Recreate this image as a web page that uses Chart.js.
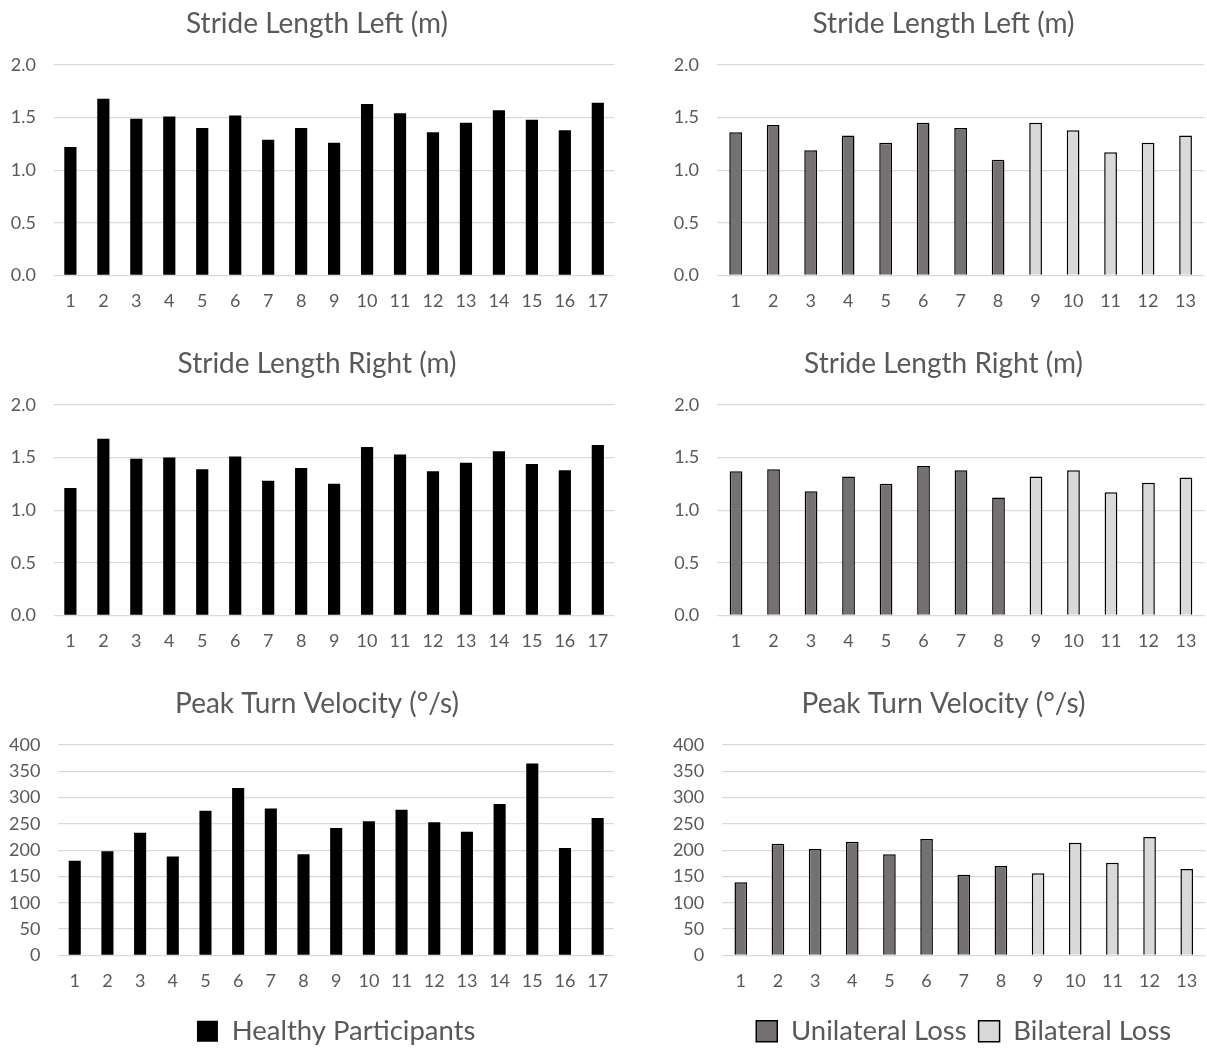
<!DOCTYPE html>
<html lang="en">
<head>
<meta charset="UTF-8" />
<title>Gait measures - healthy vs vestibular loss</title>
<style>
  html, body { margin: 0; padding: 0; background: #fff; overflow: hidden; }
  body { width: 1207px; height: 1051px; position: relative; }
  canvas { position: absolute; }
</style>
</head>
<body>
<!-- canvases are a bit wider than their column so the titles sit where Excel put them -->
<canvas id="hLeft" width="634" height="330" style="left:0;top:0"></canvas>
<canvas id="lLeft" width="647" height="330" style="left:620px;top:0"></canvas>
<canvas id="hRight" width="634" height="330" style="left:0;top:340px"></canvas>
<canvas id="lRight" width="647" height="330" style="left:620px;top:340px"></canvas>
<canvas id="hTurn" width="634" height="375" style="left:0;top:680px"></canvas>
<canvas id="lTurn" width="647" height="375" style="left:620px;top:680px"></canvas>

<script src="https://cdn.jsdelivr.net/npm/chart.js"></script>
<script>
// data
const healthyLabels = ["1","2","3","4","5","6","7","8","9","10","11","12","13","14","15","16","17"];
const healthyStrideLeft  = [1.22, 1.68, 1.49, 1.51, 1.40, 1.52, 1.29, 1.40, 1.26, 1.63, 1.54, 1.36, 1.45, 1.57, 1.48, 1.38, 1.64];
const healthyStrideRight = [1.21, 1.68, 1.49, 1.50, 1.39, 1.51, 1.28, 1.40, 1.25, 1.60, 1.53, 1.37, 1.45, 1.56, 1.44, 1.38, 1.62];
const healthyTurn = [180, 198, 233, 188, 275, 318, 279, 192, 242, 255, 277, 253, 235, 288, 365, 204, 261];

const lossLabels = ["1","2","3","4","5","6","7","8","9","10","11","12","13"];
const lossGroup = ["U","U","U","U","U","U","U","U","B","B","B","B","B"];
const lossStrideLeft  = [1.36, 1.43, 1.19, 1.33, 1.26, 1.45, 1.40, 1.10, 1.45, 1.38, 1.17, 1.26, 1.33];
const lossStrideRight = [1.37, 1.39, 1.18, 1.32, 1.25, 1.42, 1.38, 1.12, 1.32, 1.38, 1.17, 1.26, 1.31];
const lossTurn = [139, 212, 202, 216, 192, 221, 153, 170, 156, 214, 176, 225, 164];

const strideTicks = { min: 0, max: 2, step: 0.5, digits: 1 };
const turnTicks = { min: 0, max: 400, step: 50, digits: 0 };

const TEXT = "#595959";
const GRID = "#d9d9d9";
const FONT = "Lato, 'Open Sans', sans-serif";

const PLOT_BOTTOM = 275.3;   // zero line, in each canvas
const LEGEND_FONT = 27.5;
const LEGEND_PAD = 12;

Chart.defaults.font.family = FONT;
Chart.defaults.color = TEXT;
Chart.defaults.animation = false;

function makeChart(id, title, labels, datasets, ticks, opts) {
  const canvas = document.getElementById(id);
  const H = canvas.height;
  // legend height in chart.js v4 = itemHeight + padding + 10
  const legendH = opts.legend ? LEGEND_FONT + LEGEND_PAD + 10 : 0;
  return new Chart(canvas, {
    type: "bar",
    data: { labels, datasets },
    options: {
      responsive: false,
      layout: { padding: 0 },
      plugins: {
        title: {
          display: true,
          text: title,
          color: TEXT,
          font: { size: 28, weight: "normal" },
          padding: { top: 7, bottom: 24.4 }
        },
        legend: {
          display: !!opts.legend,
          position: "bottom",
          fullSize: false,
          labels: {
            color: TEXT,
            font: { size: LEGEND_FONT },
            boxWidth: 21,
            boxHeight: 21,
            padding: LEGEND_PAD
          }
        },
        tooltip: { enabled: false }
      },
      scales: {
        x: {
          // invisible tick marks give the gap under the axis without extra side padding
          grid: { display: true, color: "rgba(0,0,0,0)", drawTicks: true, tickLength: 14.7 },
          border: { display: false },
          ticks: { color: TEXT, font: { size: 18 }, padding: 0, maxRotation: 0, autoSkip: false },
          afterFit: s => { s.height = H - legendH - PLOT_BOTTOM; }
        },
        y: {
          min: ticks.min,
          max: ticks.max,
          grid: { color: GRID, lineWidth: 1.3, drawTicks: false },
          border: { display: false },
          ticks: {
            stepSize: ticks.step,
            color: TEXT,
            font: { size: 18 },
            padding: 18,
            callback: v => Number(v).toFixed(ticks.digits)
          },
          afterFit: s => { s.width = opts.axisWidth; }
        },
        // empty right-hand axis: holds the plot's right edge without moving the centred title
        spacer: {
          type: "linear",
          position: "right",
          grid: { display: false },
          border: { display: false },
          ticks: { display: false },
          afterFit: s => { s.width = opts.padRight; }
        }
      }
    }
  });
}

function healthySet(values) {
  return [{
    label: "Healthy Participants",
    data: values,
    backgroundColor: "#000000",
    borderWidth: 0,
    categoryPercentage: 1,
    barPercentage: 0.37
  }];
}

function lossSets(values) {
  const common = { borderColor: "#000000", borderWidth: 1.5, borderSkipped: "start",
                   grouped: false, categoryPercentage: 1, barPercentage: 0.34 };
  return [
    Object.assign({ label: "Unilateral Loss", backgroundColor: "#767171",
      data: values.map((v, i) => lossGroup[i] === "U" ? v : null) }, common),
    Object.assign({ label: "Bilateral Loss", backgroundColor: "#d9d9d9",
      data: values.map((v, i) => lossGroup[i] === "B" ? v : null) }, common)
  ];
}

makeChart("hLeft", "Stride Length Left (m)", healthyLabels, healthySet(healthyStrideLeft), strideTicks,
  { axisWidth: 53.9, padRight: 19.7 });
makeChart("lLeft", "Stride Length Left (m)", lossLabels, lossSets(lossStrideLeft), strideTicks,
  { axisWidth: 96.9, padRight: 62.7 });
makeChart("hRight", "Stride Length Right (m)", healthyLabels, healthySet(healthyStrideRight), strideTicks,
  { axisWidth: 53.9, padRight: 19.7 });
makeChart("lRight", "Stride Length Right (m)", lossLabels, lossSets(lossStrideRight), strideTicks,
  { axisWidth: 97.3, padRight: 62.3 });
makeChart("hTurn", "Peak Turn Velocity (°/s)", healthyLabels, healthySet(healthyTurn), turnTicks,
  { axisWidth: 58.4, padRight: 20, legend: true });
makeChart("lTurn", "Peak Turn Velocity (°/s)", lossLabels, lossSets(lossTurn), turnTicks,
  { axisWidth: 102.2, padRight: 61.7, legend: true });
</script>
</body>
</html>
